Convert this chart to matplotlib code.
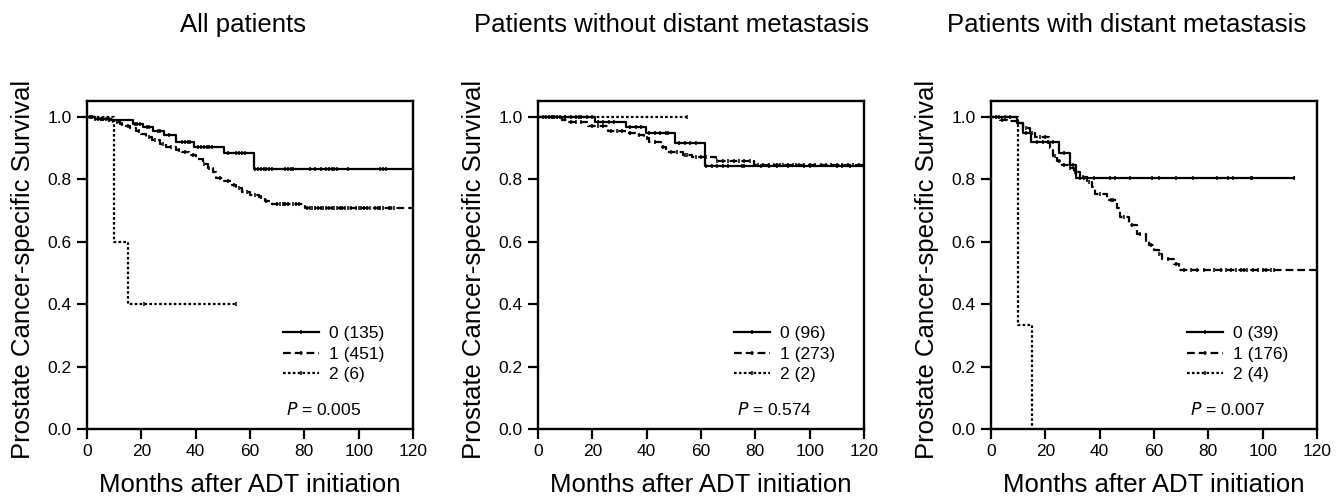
import numpy as np
import matplotlib
matplotlib.use("Agg")
import matplotlib.pyplot as plt
from matplotlib.lines import Line2D

plt.rcParams['font.family'] = ['Liberation Sans', 'DejaVu Sans']

# ---- data ----
titles = ["All patients", "Patients without distant metastasis", "Patients with distant metastasis"]
group_labels = [["0 (135)", "1 (451)", "2 (6)"],
                ["0 (96)", "1 (273)", "2 (2)"],
                ["0 (39)", "1 (176)", "2 (4)"]]
p_values = ["0.005", "0.574", "0.007"]

# All patients
a0_t = [0, 3, 9, 17, 20.6, 24.3, 28.5, 32.8, 39.5, 50.5, 61.5]
a0_s = [1.0, 0.995, 0.99, 0.977, 0.969, 0.956, 0.942, 0.919, 0.905, 0.886, 0.834]
a0_end = 120
a0_c = [1, 2, 3, 4, 5, 6, 7, 8, 17.5, 18.5, 19.5, 22, 23, 26, 27, 30, 35, 36, 37, 38,
        41, 42, 43, 44, 45, 46, 52, 55, 56, 57, 58, 62, 63, 64, 65, 66, 67, 68,
        73, 74, 75, 76, 82, 84, 86, 88, 89, 90, 91, 92, 96, 108, 109, 110]
a1_t = [0, 4, 7, 9.6, 12, 14.5, 16, 18.2, 20, 21.8, 24, 26.7, 29, 32.8, 35, 37.7, 40,
        42.6, 44.5, 46.2, 47.4, 50, 53.5, 55, 57.2, 60, 63.3, 65.5, 68.2, 80.4]
a1_s = [1.0, 0.995, 0.99, 0.984, 0.978, 0.972, 0.965, 0.955, 0.946, 0.937, 0.925, 0.913,
        0.903, 0.894, 0.887, 0.878, 0.865, 0.848, 0.836, 0.825, 0.806, 0.795, 0.782, 0.772,
        0.761, 0.751, 0.742, 0.732, 0.72, 0.709]
a1_end = 120
a1_c = [2, 5, 6, 8, 11, 13, 15, 19, 23, 25, 28, 31, 34, 36, 39, 43, 45, 49, 52, 54, 56,
        59, 62, 64, 66, 70, 71, 72, 73, 74, 76, 77, 78, 81, 82, 83, 84, 85, 86, 87, 88,
        89, 90, 91, 92, 93, 94, 95, 96, 97, 99, 100, 101, 102, 103, 104, 106, 107, 108,
        109, 111, 112, 113]
a2_t = [0, 10, 15]
a2_s = [1.0, 0.6, 0.4]
a2_end = 55
a2_c = [21, 55]

# Patients without distant metastasis
n0_t = [0, 20.9, 32.4, 39.8, 50.5, 61.5]
n0_s = [1.0, 0.985, 0.969, 0.948, 0.918, 0.843]
n0_end = 120
n0_c = [2, 4, 6, 8, 10, 12, 14, 16, 18, 22, 24, 26, 28, 34, 36, 38, 41, 43, 45, 47, 48,
        52, 54, 56, 58, 62, 64, 66, 68, 70, 75, 76, 82, 85, 88, 92, 98, 100, 110, 112, 115]
n1_t = [0, 8.7, 10.5, 18.4, 25.7, 32.4, 36.1, 39.1, 41.0, 45.2, 47.1, 53.2, 56.8, 65.4, 79.4]
n1_s = [1.0, 0.99, 0.983, 0.972, 0.956, 0.948, 0.942, 0.932, 0.919, 0.905, 0.889, 0.878,
        0.871, 0.859, 0.845]
n1_end = 120
n1_c = [3, 5, 7, 12, 14, 16, 20, 22, 24, 27, 29, 31, 34, 37, 40, 43, 46, 49, 51, 54, 55,
        58, 60, 62, 66, 68, 70, 72, 74, 76, 78, 81, 83, 85, 87, 88, 89, 90, 92, 94, 95,
        96, 98, 100, 102, 104, 106, 108, 110, 112, 114, 116, 118]
n2_t = [0]
n2_s = [1.0]
n2_end = 55
n2_c = [5, 10, 15, 20, 55]

# Patients with distant metastasis
m0_t = [0, 9.5, 11.7, 14.7, 24.9, 28.9, 31.3]
m0_s = [1.0, 0.981, 0.949, 0.920, 0.886, 0.847, 0.806]
m0_end = 111.4
m0_c = [3, 5, 7, 13, 17, 19, 21, 23, 27, 30, 32.9, 34.1, 35.3, 37.8, 43.9, 45.8, 51.1,
        59.3, 61.8, 68.2, 74.3, 83.3, 87.2, 89.2, 95.6, 96.2, 111.4]
m1_t = [0, 3.3, 5.8, 9.7, 11.9, 14.4, 16.2, 21.2, 21.8, 23.0, 24.2, 26.1, 28.5, 30.4,
        32.9, 35.3, 37.2, 38.4, 42.7, 46.4, 47.6, 50.7, 53.8, 56.9, 58.1, 59.9, 61.8,
        63.0, 67.3, 69.2]
m1_s = [1.0, 0.99, 0.986, 0.981, 0.965, 0.949, 0.935, 0.917, 0.90, 0.874, 0.858, 0.847,
        0.836, 0.825, 0.807, 0.793, 0.777, 0.753, 0.734, 0.707, 0.680, 0.653, 0.626,
        0.605, 0.589, 0.575, 0.560, 0.546, 0.530, 0.510]
m1_end = 120
m1_c = [2, 4, 10, 13, 15, 18, 20, 23.5, 25, 27, 29, 31, 34, 36, 40, 44, 45, 49, 52, 55,
        57, 59, 62, 65, 68, 71.0, 73.5, 75.9, 78.4, 82.1, 84.6, 86.4, 88.2, 90.1, 92.0,
        93.2, 94.4, 96.3, 98.1, 100.0, 101.2, 103.0, 104.3]
m2_t = [0, 10, 15]
m2_s = [1.0, 0.333, 0.0]
m2_end = 15
m2_c = []

panels = [
    [(a0_t, a0_s, a0_end, a0_c), (a1_t, a1_s, a1_end, a1_c), (a2_t, a2_s, a2_end, a2_c)],
    [(n0_t, n0_s, n0_end, n0_c), (n1_t, n1_s, n1_end, n1_c), (n2_t, n2_s, n2_end, n2_c)],
    [(m0_t, m0_s, m0_end, m0_c), (m1_t, m1_s, m1_end, m1_c), (m2_t, m2_s, m2_end, m2_c)],
]

styles = ['-', (0, (3.5, 1.8)), (0, (1.2, 1.0))]

W, H = 1342, 496
fig = plt.figure(figsize=(W / 100, H / 100), dpi=100)

ax_left = [87, 538, 991]
ax_w = 326
ax_bottom, ax_top = 429, 101
title_x = [243, 672, 1127]
small = 12.5
big = 18.5

for i in range(3):
    ax = fig.add_axes([ax_left[i] / W, 1 - ax_bottom / H, ax_w / W, (ax_bottom - ax_top) / H])
    handles = []
    for g, (t, s, end, cens) in enumerate(panels[i]):
        tt = list(t) + [end]
        ss = list(s) + [s[-1]]
        ax.step(tt, ss, where='post', color='black', lw=1.6, linestyle=styles[g])
        if cens:
            c = np.array(cens, dtype=float)
            idx = np.searchsorted(np.array(t), c, side='right') - 1
            cy = np.array(s)[idx]
            ax.plot(c, cy, linestyle='none', marker='|', color='black', ms=3.5, mew=1.1)
        handles.append(Line2D([0], [0], color='black', lw=1.6, linestyle=styles[g],
                              marker='|', ms=3.5, mew=1.1))
    ax.set_xlim(0, 120)
    ax.set_ylim(0, 1.0513)
    ax.set_xticks(np.arange(0, 121, 20))
    ax.set_yticks(np.arange(0, 1.01, 0.2))
    ax.set_yticklabels([f"{v:.1f}" for v in np.arange(0, 1.01, 0.2)])
    ax.tick_params(direction='out', length=7, width=1.6, labelsize=small, pad=4)
    for sp in ax.spines.values():
        sp.set_linewidth(1.7)
    ax.legend(handles, group_labels[i], loc='upper left', bbox_to_anchor=(0.6, 0.313),
              frameon=False, fontsize=small, handlelength=2.1, handletextpad=0.6,
              labelspacing=0.3, borderpad=0, borderaxespad=0)
    ax.text(0.61, 0.043, "$P$ = " + p_values[i], transform=ax.transAxes, fontsize=small,
            ha='left', va='baseline')
    fig.text(title_x[i] / W, 1 - 32.3 / H, titles[i], fontsize=big, ha='center', va='baseline')
    fig.text((ax_left[i] + ax_w / 2) / W, 3.5 / H, "Months after ADT initiation",
             fontsize=big, ha='center', va='baseline')
    fig.text((ax_left[i] - 64) / W, 1 - 269 / H, "Prostate Cancer-specific Survival",
             fontsize=big, rotation=90, ha='center', va='center')

fig.savefig("out.png", dpi=100)
